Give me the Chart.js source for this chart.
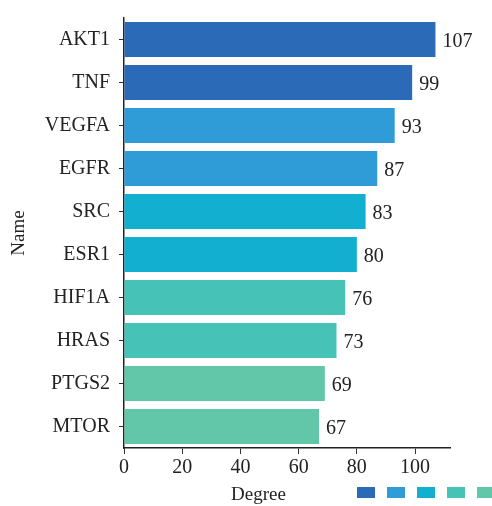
<!DOCTYPE html>
<html>
<head>
<meta charset="utf-8">
<script src="https://cdn.jsdelivr.net/npm/chart.js@4.4.0/dist/chart.umd.min.js"></script>
<style>
  html, body { margin: 0; padding: 0; background: #fff; }
  #wrap { width: 492px; height: 506px; }
</style>
</head>
<body>
<div id="wrap"><canvas id="degree-chart" width="492" height="506"></canvas></div>
<script>
const names = ["AKT1", "TNF", "VEGFA", "EGFR", "SRC", "ESR1", "HIF1A", "HRAS", "PTGS2", "MTOR"];
const degrees = [107, 99, 93, 87, 83, 80, 76, 73, 69, 67];
const xTicks = [0, 20, 40, 60, 80, 100];
const shades = ["#2a6ab7", "#2f9bd7", "#12afd0", "#46c2b6", "#62c6a9"];
const barColors = names.map((n, i) => shades[Math.floor(i / 2)]);

const serif = "'Liberation Serif', 'DejaVu Serif', serif";

// value text at the end of each bar
const valueLabels = {
    id: 'valueLabels',
    afterDatasetsDraw(chart) {
        const ctx = chart.ctx;
        const meta = chart.getDatasetMeta(0);
        ctx.save();
        ctx.font = "20px " + serif;
        ctx.fillStyle = "#222";
        ctx.textAlign = "left";
        ctx.textBaseline = "middle";
        meta.data.forEach((bar, i) => {
            ctx.fillText(degrees[i], bar.x + 7, bar.y + 2);
        });
        ctx.restore();
    }
};

// colour-only legend boxes, bottom right
const swatches = {
    id: 'swatches',
    afterDraw(chart) {
        const ctx = chart.ctx;
        ctx.save();
        shades.forEach((c, i) => {
            ctx.fillStyle = c;
            ctx.fillRect(357 + i * 30, 487, 18, 11);
        });
        ctx.restore();
    }
};

new Chart(document.getElementById('degree-chart').getContext('2d'), {
    type: 'bar',
    data: {
        labels: names,
        datasets: [{
            label: 'Degree',
            data: degrees,
            backgroundColor: barColors,
            borderWidth: 0,
            categoryPercentage: 1,
            barPercentage: 0.81
        }]
    },
    options: {
        indexAxis: 'y',
        responsive: false,
        animation: false,
        devicePixelRatio: 1,
        layout: { padding: { top: 18, right: 42, bottom: 0, left: 8 } },
        plugins: {
            legend: { display: false },
            tooltip: { enabled: false }
        },
        scales: {
            x: {
                min: 0,
                max: 112,
                afterBuildTicks: s => { s.ticks = xTicks.map(v => ({ value: v })); },
                ticks: { font: { family: serif, size: 20 }, color: "#222", padding: 2 },
                grid: { drawOnChartArea: false, tickLength: 6, color: "#333" },
                border: { color: "#222", width: 1.5 },
                // trailing spaces nudge the title left like the original
                title: { display: true, text: "Degree\u00a0\u00a0\u00a0\u00a0\u00a0\u00a0\u00a0\u00a0\u00a0\u00a0\u00a0\u00a0", font: { family: serif, size: 19 }, color: "#222", padding: { top: 5, bottom: 0 } },
                afterFit: s => { s.height = 58; }
            },
            y: {
                ticks: { font: { family: serif, size: 20 }, color: "#222", padding: 9 },
                grid: { drawOnChartArea: false, offset: false, tickLength: 5, color: "#333" },
                border: { color: "#222", width: 1.5 },
                title: { display: true, text: "Name", font: { family: serif, size: 19 }, color: "#222", padding: { top: 0, bottom: 4 } },
                afterFit: s => { s.width = 116; s.paddingTop = 0; s.paddingBottom = 0; }
            }
        }
    },
    plugins: [valueLabels, swatches]
});
</script>
</body>
</html>
